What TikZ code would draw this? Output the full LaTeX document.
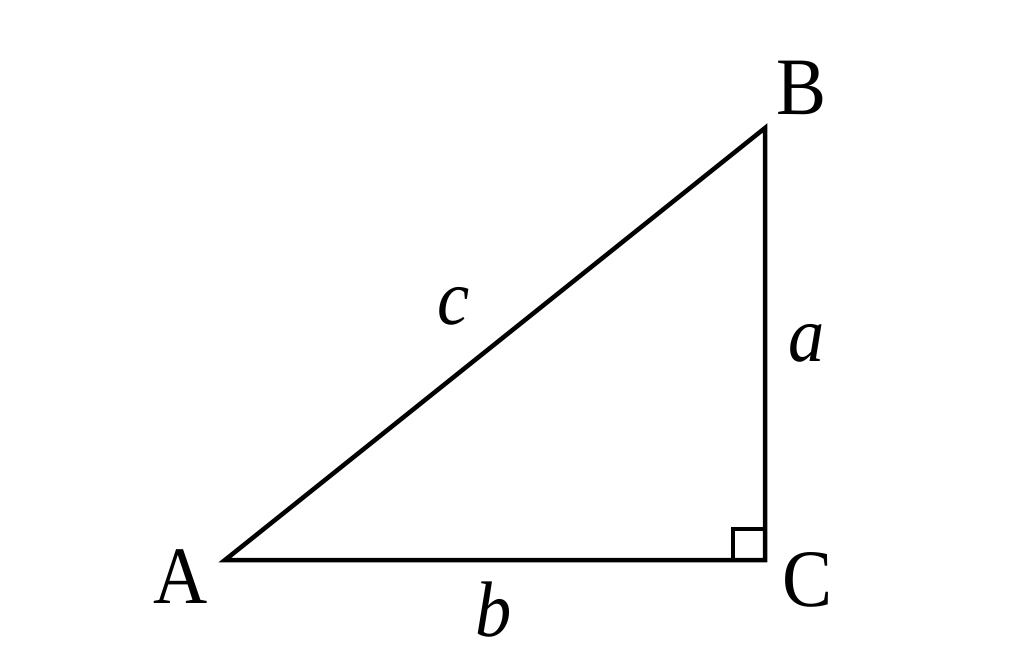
\documentclass[tikz,border=0pt]{standalone}
\usepackage{fontspec}
\setmainfont[FakeStretch=0.92]{Liberation Serif}
\begin{document}
\begin{tikzpicture}[x=0.025cm,y=-0.025cm,
  edge/.style={line width=3.2pt,line join=miter,black},
  sq/.style={line width=2.6pt,black},
  lbl/.style={inner sep=0pt,font=\fontsize{58}{68}\selectfont},
  mlbl/.style={inner sep=0pt,font=\fontsize{56}{66}\selectfont\itshape}]
\useasboundingbox (0,0) rectangle (1024,663);
\coordinate (A) at (225,560);
\coordinate (B) at (765,128);
\coordinate (C) at (765,560);
\coordinate (S1) at (733,560);
\coordinate (S2) at (733,529);
\coordinate (S3) at (765,529);
\draw[edge] (A) -- (B) -- (C) -- cycle;
\draw[sq] (S1) -- (S2) -- (S3);
\node[lbl,anchor=base] (lA) at (181,603) {A};
\node[lbl,anchor=base] (lB) at (802,115) {B};
\node[lbl,anchor=base] (lC) at (808,606) {C};
\node[mlbl,anchor=base] (lc) at (454,324) {c};
\node[mlbl,anchor=base] (la) at (807,361) {a};
\node[mlbl,anchor=base] (lb) at (494,636) {b};
\end{tikzpicture}
\end{document}
